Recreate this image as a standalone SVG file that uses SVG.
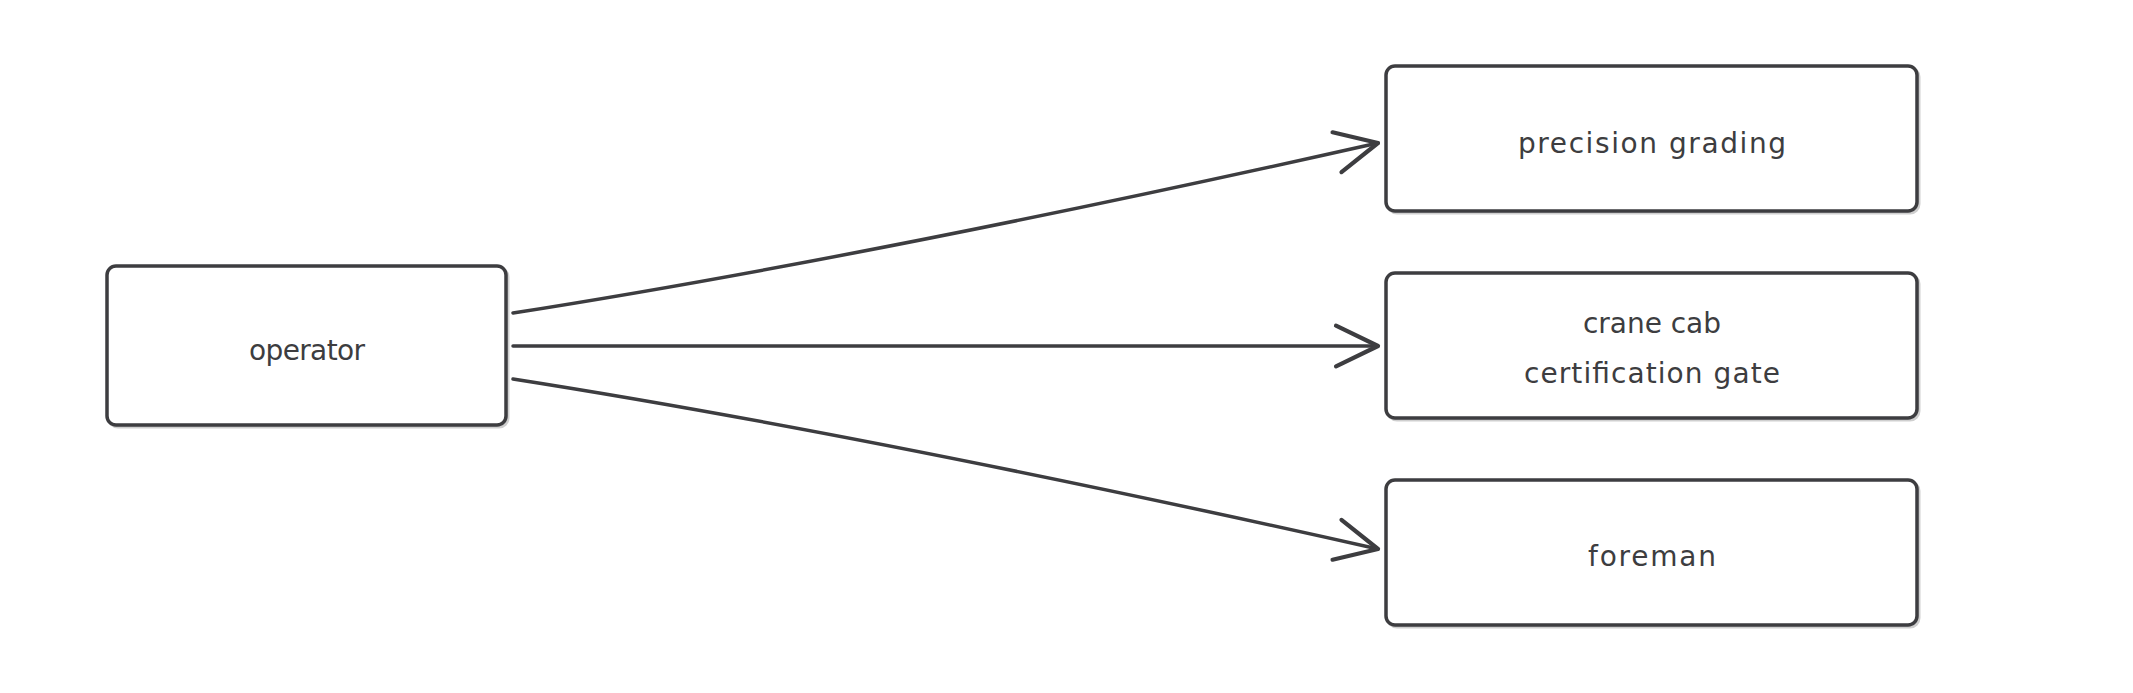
<svg xmlns="http://www.w3.org/2000/svg" width="2133" height="693" viewBox="0 0 2133 693">
  <style>
    .box { fill: #ffffff; stroke: #3d3d40; stroke-width: 3.5; }
    .shadow { fill: none; stroke: #cfcfcf; stroke-width: 3; }
    .edge { fill: none; stroke: #3d3d40; stroke-width: 3.5; stroke-linecap: round; }
    .label { font-family: "DejaVu Sans", "Liberation Sans", sans-serif; font-size: 28px; fill: #3d3d40; text-anchor: middle; }
  </style>
  <defs>
    <marker id="arrow" markerUnits="userSpaceOnUse" markerWidth="60" markerHeight="60" viewBox="-45 -25 50 50" refX="0" refY="0" orient="auto" overflow="visible">
      <path d="M-35,-17 L0,0 L-35,17" fill="none" stroke="#3d3d40" stroke-width="3.5" stroke-linecap="round" stroke-linejoin="round"/>
    </marker>
  </defs>
  <rect width="2133" height="693" fill="#ffffff"/>

  <g id="connectors">
    <path class="edge" d="M513,313 Q870,257 1378,143" marker-end="url(#arrow)"/>
    <path class="edge" d="M513,346 L1378,346" marker-end="url(#arrow)"/>
    <path class="edge" d="M513,379 Q870,435 1378,549" marker-end="url(#arrow)"/>
  </g>

  <g id="operator">
    <rect class="shadow" x="109" y="268" width="399" height="159" rx="9"/>
    <rect class="box" x="107" y="266" width="399" height="159" rx="9"/>
    <text class="label" x="307" y="360" textLength="116" lengthAdjust="spacing">operator</text>
  </g>

  <g id="precision-grading">
    <rect class="shadow" x="1388" y="68" width="531" height="145" rx="9"/>
    <rect class="box" x="1386" y="66" width="531" height="145" rx="9"/>
    <text class="label" x="1652" y="153" textLength="268" lengthAdjust="spacing">precision grading</text>
  </g>

  <g id="crane-cab-certification-gate">
    <rect class="shadow" x="1388" y="275" width="531" height="145" rx="9"/>
    <rect class="box" x="1386" y="273" width="531" height="145" rx="9"/>
    <text class="label" x="1652" y="333" textLength="138" lengthAdjust="spacing">crane cab</text>
    <text class="label" x="1652" y="383" textLength="256" lengthAdjust="spacing">certification gate</text>
  </g>

  <g id="foreman">
    <rect class="shadow" x="1388" y="482" width="531" height="145" rx="9"/>
    <rect class="box" x="1386" y="480" width="531" height="145" rx="9"/>
    <text class="label" x="1652" y="566" textLength="128" lengthAdjust="spacing">foreman</text>
  </g>
</svg>
